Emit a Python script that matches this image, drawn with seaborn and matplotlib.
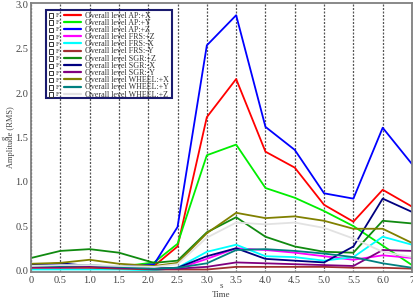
import numpy as np
import pandas as pd
import matplotlib
matplotlib.use("Agg")
import matplotlib.pyplot as plt
from matplotlib.lines import Line2D
from matplotlib.patches import Rectangle
from matplotlib.transforms import IdentityTransform
import seaborn as sns

# ---- data ----
time = [0, 0.5, 1.0, 1.5, 2.1, 2.5, 3.0, 3.5, 4.0, 4.5, 5.0, 5.5, 6.0, 6.5]
ap_x = [0.03, 0.04, 0.04, 0.03, 0.05, 0.27, 1.73, 2.16, 1.34, 1.16, 0.74, 0.55, 0.91, 0.72]
ap_y = [0.04, 0.05, 0.05, 0.04, 0.09, 0.30, 1.30, 1.42, 0.93, 0.82, 0.67, 0.50, 0.28, 0.06]
ap_z = [0.04, 0.07, 0.05, 0.04, 0.07, 0.49, 2.54, 2.88, 1.62, 1.36, 0.87, 0.81, 1.61, 1.20]
frs_pz = [0.03, 0.03, 0.03, 0.02, 0.01, 0.02, 0.13, 0.25, 0.23, 0.20, 0.16, 0.12, 0.17, 0.14]
frs_mx = [0.01, 0.01, 0.01, 0.01, 0.00, 0.03, 0.21, 0.29, 0.16, 0.15, 0.11, 0.15, 0.38, 0.29]
frs_my = [0.03, 0.03, 0.03, 0.02, 0.01, 0.01, 0.01, 0.04, 0.04, 0.04, 0.04, 0.03, 0.03, 0.02]
sgr_pz = [0.14, 0.22, 0.24, 0.20, 0.085, 0.11, 0.43, 0.60, 0.38, 0.27, 0.21, 0.20, 0.56, 0.53]
sgr_mx = [0.06, 0.08, 0.05, 0.04, 0.02, 0.03, 0.16, 0.25, 0.13, 0.11, 0.09, 0.27, 0.81, 0.66]
sgr_my = [0.04, 0.04, 0.05, 0.03, 0.02, 0.02, 0.04, 0.09, 0.08, 0.07, 0.06, 0.05, 0.23, 0.22]
wheel_x = [0.075, 0.085, 0.12, 0.075, 0.05, 0.085, 0.42, 0.65, 0.59, 0.61, 0.56, 0.47, 0.47, 0.31]
wheel_y = [0.05, 0.05, 0.06, 0.04, 0.02, 0.03, 0.08, 0.23, 0.24, 0.22, 0.19, 0.15, 0.08, 0.03]
wheel_z = [0.05, 0.06, 0.06, 0.05, 0.04, 0.07, 0.37, 0.54, 0.52, 0.54, 0.48, 0.36, 0.21, 0.15]

series_names = [
    "Overall level AP:+X", "Overall level AP:+Y", "Overall level AP:+Z",
    "Overall level FRS:+Z", "Overall level FRS:-X", "Overall level FRS:-Y",
    "Overall level SGR:+Z", "Overall level SGR:-X", "Overall level SGR:-Y",
    "Overall level WHEEL:+X", "Overall level WHEEL:+Y", "Overall level WHEEL:+Z",
]
series_values = [ap_x, ap_y, ap_z, frs_pz, frs_mx, frs_my,
                 sgr_pz, sgr_mx, sgr_my, wheel_x, wheel_y, wheel_z]
series_colors = ["#ff0000", "#00ee00", "#0000ff", "#ff00ff", "#00ffff", "#a03030",
                 "#108a10", "#000080", "#800080", "#808000", "#008080", "#e2e2e2"]

xtick_vals = [0, 0.5, 1.0, 1.5, 2.0, 2.5, 3.0, 3.5, 4.0, 4.5, 5.0, 5.5, 6.0, 6.5]
xtick_labels = ["0", "0.5", "1.0", "1.5", "2.0", "2.5", "3.0", "3.5", "4.0",
                "4.5", "5.0", "5.5", "6.0", "7"]
ytick_vals = [0.0, 0.5, 1.0, 1.5, 2.0, 2.5, 3.0]
ytick_labels = ["0.0", "0.5", "1.0", "1.5", "2.0", "2.5", "3.0"]

rows = []
for name, vals in zip(series_names, series_values):
    for t, v in zip(time, vals):
        rows.append({"Time": t, "Amp": v, "Series": name})
df = pd.DataFrame(rows)
palette = dict(zip(series_names, series_colors))

sns.set_theme(style="white")
plt.rcParams["font.family"] = ["Liberation Serif", "DejaVu Serif"]

W, H = 414, 305
fig = plt.figure(figsize=(W / 100, H / 100), dpi=100)
ax = fig.add_axes([31 / W, (H - 272) / H, (412 - 31) / W, (272 - 3) / H])

sns.lineplot(data=df, x="Time", y="Amp", hue="Series", hue_order=series_names,
             palette=palette, linewidth=1.3, legend=False, ax=ax, sort=False)

ax.set_xlim(0, 6.5)
ax.set_ylim(-0.018, 3.018)
ax.set_xticks(xtick_vals)
ax.set_xticklabels(xtick_labels)
ax.set_yticks(ytick_vals)
ax.set_yticklabels(ytick_labels)
ax.tick_params(axis="y", direction="in", length=14, width=1.8, color="#8a8a8a",
               labelsize=7.5, labelcolor="#444444", pad=2)
ax.tick_params(axis="x", direction="in", length=0, labelsize=7.5,
               labelcolor="#444444", pad=3)
ax.grid(axis="x", linestyle=(0, (1.6, 1.2)), color="#555555", linewidth=0.9)
ax.grid(axis="y", visible=False)
for s in ax.spines.values():
    s.set_color("#808080")
    s.set_linewidth(1.3)

ax.set_xlabel("s\nTime", fontsize=6.5, color="#444444", linespacing=1.15)
ax.xaxis.set_label_coords(0.5, (272 - 282) / 269)
ax.set_ylabel("g\nAmplitude (RMS)", fontsize=6, color="#444444", linespacing=0.8)
ax.yaxis.set_label_coords((15 - 31) / 381, 0.5)

# legend
handles = [Line2D([], [], color=c, linewidth=1.6) for c in series_colors]
leg = ax.legend(handles, series_names, loc="upper left",
                bbox_to_anchor=(64 / W, (H - 11.5) / H), bbox_transform=fig.transFigure,
                frameon=False, handlelength=2.1, handletextpad=0.45,
                labelspacing=-0.1, borderpad=0, borderaxespad=0,
                prop={"family": ["Liberation Serif", "DejaVu Serif"], "size": 5.8})
for t in leg.get_texts():
    t.set_color("#333333")

fig.canvas.draw()
frame = Rectangle((46, H - 98), 172 - 46, 98 - 10, transform=IdentityTransform(),
                  fill=False, edgecolor="#1a1a6e", linewidth=1.5, zorder=10)
fig.patches.append(frame)
for t in leg.get_texts():
    bb = t.get_window_extent()
    yc = (bb.y0 + bb.y1) / 2
    box = Rectangle((49, yc - 2.2), 4.4, 4.4, transform=IdentityTransform(),
                    fill=False, edgecolor="#333333", linewidth=0.7, zorder=10)
    fig.patches.append(box)
    fig.text(57.5, yc, "F", transform=IdentityTransform(), ha="center", va="center",
             fontsize=4.8, color="#333333")

fig.savefig("out.png", dpi=100)
